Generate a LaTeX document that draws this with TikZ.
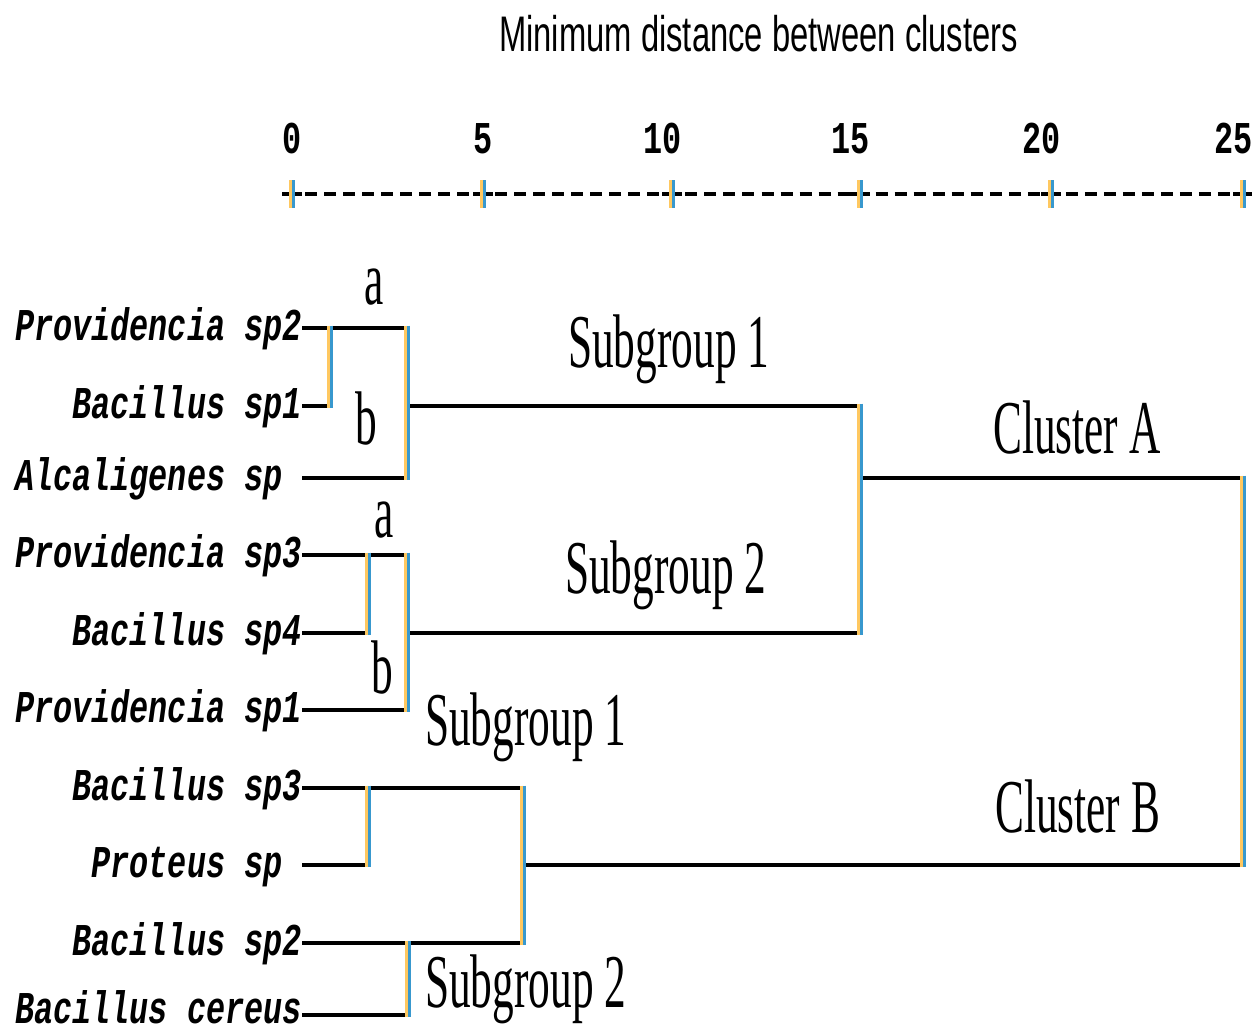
\documentclass[tikz,border=0pt]{standalone}
\usepackage{fontspec}
\newfontfamily\leaffont[FakeStretch=0.70]{Liberation Mono}
\newfontfamily\tagfont[FakeStretch=0.57]{Liberation Serif}
\newfontfamily\titlefont[FakeStretch=0.655]{Liberation Sans}
\definecolor{fringeL}{RGB}{255,200,96}
\definecolor{fringeR}{RGB}{56,152,206}

\tikzset{
  leaf/.style={anchor=base east, inner sep=0pt,
    font=\leaffont\bfseries\itshape\fontsize{45.5}{50}\selectfont},
  tick/.style={anchor=base east, inner sep=0pt,
    font=\leaffont\bfseries\fontsize{45.5}{50}\selectfont},
  tag/.style={anchor=base west, inner sep=0pt,
    font=\tagfont\fontsize{76}{80}\selectfont},
  letter/.style={anchor=base, inner sep=0pt,
    font=\tagfont\fontsize{76}{80}\selectfont},
  titletext/.style={anchor=base west, inner sep=0pt,
    font=\titlefont\fontsize{50}{54}\selectfont},
  hlink/.style={draw=black, line width=4.6pt},
  axisdash/.style={draw=black, line width=4.5pt},
  vleft/.style={draw=fringeL, line width=2.7pt, shorten <=-2.3pt, shorten >=-2.3pt,
    transform canvas={xshift=-1.35pt}},
  vright/.style={draw=fringeR, line width=2.7pt, shorten <=-2.3pt, shorten >=-2.3pt,
    transform canvas={xshift=1.35pt}},
}
% vertical join drawn as two coloured strips
\newcommand\vlink[2]{%
  \draw[vleft] (#1) -- (#2);
  \draw[vright] (#1) -- (#2);}

\begin{document}
\begin{tikzpicture}[x=1pt, y=-1pt]
\useasboundingbox (0,0) rectangle (1252,1032);

% title
\node[titletext] (title) at (499,52) {Minimum distance between clusters};

% scale
\foreach \v/\x in {0/292,5/483,10/672,15/860,20/1051,25/1243} {
  \node[tick] (t\v) at (\x+9.5,154) {\v};
}
\foreach \k in {0,...,49} {
  \pgfmathsetmacro\cx{292+19.02*\k}
  \draw[axisdash] (\cx-6,194) -- (\cx+6,194);
}
\foreach \x in {292,483,672,860,1051,1243} {
  \draw[axisdash] (\x-10,194) -- (\x+10,194);
  \coordinate (ta) at (\x,182.5);
  \coordinate (tb) at (\x,205.5);
  \vlink{ta}{tb}
}

% leaves
\node[leaf] (n1)  at (302,340)  {Providencia sp2};
\node[leaf] (n2)  at (302,418)  {Bacillus sp1};
\node[leaf] (n3)  at (302,490)  {Alcaligenes sp\hphantom{0}};
\node[leaf] (n4)  at (302,567)  {Providencia sp3};
\node[leaf] (n5)  at (302,645)  {Bacillus sp4};
\node[leaf] (n6)  at (302,722)  {Providencia sp1};
\node[leaf] (n7)  at (302,800)  {Bacillus sp3};
\node[leaf] (n8)  at (302,877)  {Proteus sp\hphantom{0}};
\node[leaf] (n9)  at (302,955)  {Bacillus sp2};
\node[leaf, text depth=0pt] (n10) at (302,1023) {Bacillus cereus};

\coordinate (p1) at (302,328);
\coordinate (p2) at (302,406);
\coordinate (p3) at (302,478);
\coordinate (p4) at (302,555);
\coordinate (p5) at (302,633);
\coordinate (p6) at (302,710);
\coordinate (p7) at (302,788);
\coordinate (p8) at (302,865);
\coordinate (p9) at (302,943);
\coordinate (p10) at (302,1015);

% cluster A, subgroup 1
\coordinate (c1t) at (330,328);
\coordinate (c1b) at (330,406);
\coordinate (g1t) at (407,328);
\coordinate (g1m) at (407,406);
\coordinate (g1b) at (407,478);
% cluster A, subgroup 2
\coordinate (c2t) at (368,555);
\coordinate (c2b) at (368,633);
\coordinate (g2t) at (407,555);
\coordinate (g2m) at (407,633);
\coordinate (g2b) at (407,710);
% cluster A join
\coordinate (A1) at (860,406);
\coordinate (A2) at (860,633);
\coordinate (Am) at (860,478);
% cluster B
\coordinate (c3t) at (368,788);
\coordinate (c3b) at (368,865);
\coordinate (g3t) at (523,788);
\coordinate (g3m) at (523,865);
\coordinate (g3b) at (523,943);
\coordinate (c4t) at (408,943);
\coordinate (c4b) at (408,1015);
% root
\coordinate (R1) at (1243,478);
\coordinate (R2) at (1243,865);

% horizontal branches
\draw[hlink] (p1) -- (g1t);
\draw[hlink] (p2) -- (c1b);
\draw[hlink] (p3) -- (g1b);
\draw[hlink] (g1m) -- (A1);
\draw[hlink] (p4) -- (g2t);
\draw[hlink] (p5) -- (c2b);
\draw[hlink] (p6) -- (g2b);
\draw[hlink] (g2m) -- (A2);
\draw[hlink] (Am) -- (R1);
\draw[hlink] (p7) -- (g3t);
\draw[hlink] (p8) -- (c3b);
\draw[hlink] (p9) -- (g3b);
\draw[hlink] (p10) -- (c4b);
\draw[hlink] (g3m) -- (R2);

% vertical joins
\vlink{c1t}{c1b}
\vlink{g1t}{g1b}
\vlink{c2t}{c2b}
\vlink{g2t}{g2b}
\vlink{A1}{A2}
\vlink{c3t}{c3b}
\vlink{g3t}{g3b}
\vlink{c4t}{c4b}
\vlink{R1}{R2}

% group labels
\node[letter] (la1) at (374,304) {a};
\node[letter] (lb1) at (366,444) {b};
\node[letter] (la2) at (384,537) {a};
\node[letter] (lb2) at (382,693) {b};
\node[tag] (sg1) at (568,367)  {Subgroup 1};
\node[tag] (sg2) at (565,593)  {Subgroup 2};
\node[tag] (sg3) at (425,745)  {Subgroup 1};
\node[tag] (sg4) at (425,1007) {Subgroup 2};
\node[tag] (clA) at (993,453)  {Cluster A};
\node[tag] (clB) at (995,832)  {Cluster B};
\end{tikzpicture}
\end{document}
